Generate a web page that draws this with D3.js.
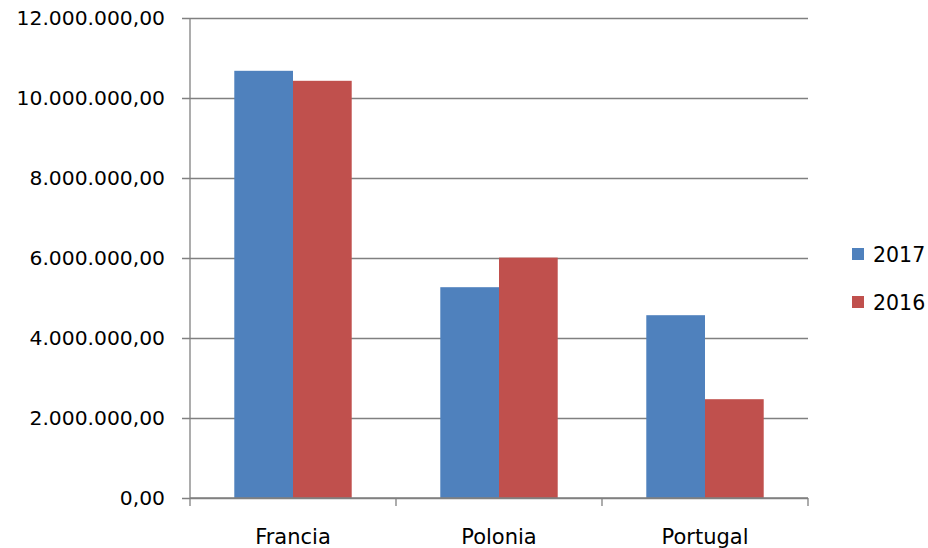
<!DOCTYPE html>
<html><head><meta charset="utf-8">
<script src="https://cdn.jsdelivr.net/npm/d3@7"></script>
<style>html,body{margin:0;padding:0;background:#fff;}svg{display:block;}</style>
</head><body>
<svg id="c" width="928" height="548"></svg>
<script>
const categories = ["Francia", "Polonia", "Portugal"];
const seriesNames = ["2017", "2016"];
const values2017 = [10680000, 5270000, 4570000];
const values2016 = [10430000, 6010000, 2470000];
const yTicks = [0, 2000000, 4000000, 6000000, 8000000, 10000000, 12000000];
const colors = ["#4F81BD", "#C0504D"];

(function () {
const seriesValues = [values2017, values2016];
const svg = d3.select("#c");
const pLeft = 190, pRight = 808, pTop = 18, pBottom = 498;
const font = "DejaVu Sans";

const y = d3.scaleLinear().domain([0, 12000000]).range([pBottom, pTop]);
const x0 = d3.scaleBand().domain(categories).range([pLeft, pRight]).paddingInner(0.43).paddingOuter(0.215);
const x1 = d3.scaleBand().domain(seriesNames).range([0, x0.bandwidth()]);

const fmt = v => {
  const s = d3.format(",.2f")(v);
  return s.replace(/,/g, "#").replace(".", ",").replace(/#/g, ".");
};

// gridlines + y axis ticks
const yAxis = d3.axisLeft(y).tickValues(yTicks).tickSize(-(pRight - pLeft)).tickSizeOuter(0).tickFormat(fmt).tickPadding(25);
const gy = svg.append("g").attr("transform", `translate(${pLeft},0)`).call(yAxis);
gy.select(".domain").remove();
gy.selectAll(".tick line").attr("x1", -8).attr("stroke", "#808080").attr("stroke-width", 1.3);
gy.selectAll(".tick text").attr("font-family", font).attr("font-size", 20.3).attr("fill", "#000");

// bars
const groups = svg.append("g").selectAll("g").data(categories).join("g")
  .attr("transform", d => `translate(${x0(d)},0)`);
groups.selectAll("rect").data((d, i) => seriesNames.map((s, j) => ({s, v: seriesValues[j][i], j})))
  .join("rect")
  .attr("x", d => x1(d.s)).attr("width", x1.bandwidth())
  .attr("y", d => y(d.v)).attr("height", d => y(0) - y(d.v))
  .attr("fill", d => colors[d.j]);

// y axis line
svg.append("line").attr("x1", pLeft).attr("x2", pLeft).attr("y1", pTop).attr("y2", pBottom)
  .attr("stroke", "#808080").attr("stroke-width", 1.3);

// x axis
const xEdges = d3.scaleLinear().domain([0, categories.length]).range([pLeft, pRight]);
const gx = svg.append("g");
gx.append("line").attr("x1", pLeft).attr("x2", pRight).attr("y1", pBottom).attr("y2", pBottom)
  .attr("stroke", "#808080").attr("stroke-width", 1.3);
gx.selectAll("line.t").data(d3.range(categories.length + 1)).join("line").attr("class", "t")
  .attr("x1", d => xEdges(d)).attr("x2", d => xEdges(d)).attr("y1", pBottom).attr("y2", pBottom + 8)
  .attr("stroke", "#808080").attr("stroke-width", 1.3);
gx.selectAll("text").data(categories).join("text")
  .attr("x", d => x0(d) + x0.bandwidth() / 2).attr("y", 544)
  .attr("text-anchor", "middle").attr("font-family", font).attr("font-size", 21).attr("fill", "#000")
  .text(d => d);

// legend
const lg = svg.append("g");
seriesNames.forEach((s, j) => {
  const cy = 255 + j * 48;
  lg.append("rect").attr("x", 852).attr("y", cy - 7).attr("width", 12).attr("height", 12).attr("fill", colors[j]);
  lg.append("text").attr("x", 873).attr("y", cy + 7).attr("font-family", font).attr("font-size", 20.5).attr("fill", "#000").text(s);
});
})();
</script>
</body></html>
